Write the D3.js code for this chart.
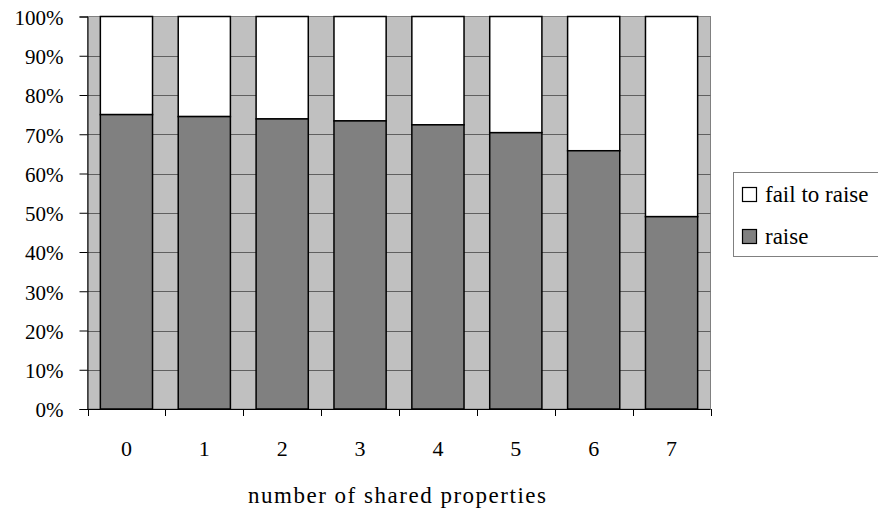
<!DOCTYPE html>
<html><head><meta charset="utf-8">
<script src="https://cdn.jsdelivr.net/npm/d3@7"></script>
<style>body{margin:0;background:#fff}svg{display:block}</style>
</head><body>
<script>
const categories = ["0","1","2","3","4","5","6","7"];
const raise = [75.0, 74.5, 73.9, 73.4, 72.4, 70.4, 65.8, 49.0];
const failToRaise = raise.map(v => 100 - v);
const yTicks = [0,10,20,30,40,50,60,70,80,90,100];
const seriesNames = ["fail to raise", "raise"];

const W = 878, H = 509;
const FONT = "Liberation Serif, Times New Roman, Tinos, DejaVu Serif, serif";
const m = {left: 87.5, right: 710.5, top: 16.5, bottom: 409};
const svg = d3.select("body").append("svg").attr("width", W).attr("height", H);

function txt(sel, fs) {
  return sel.attr("font-family", FONT).attr("font-size", fs).attr("fill", "#000")
    .style("font-family", FONT).style("font-size", fs + "px");
}

const x = d3.scaleBand().domain(categories).range([m.left, m.right]).paddingInner(0.33).paddingOuter(0.165);
const y = d3.scaleLinear().domain([0, 100]).range([m.bottom, m.top]);

// plot background
svg.append("rect").attr("x", m.left).attr("y", m.top).attr("width", m.right - m.left).attr("height", m.bottom - m.top)
  .attr("fill", "#c0c0c0").attr("stroke", "#808080").attr("stroke-width", 1);

// gridlines
svg.append("g").selectAll("line").data(yTicks.slice(1, -1)).join("line")
  .attr("x1", m.left).attr("x2", m.right)
  .attr("y1", d => Math.round(y(d)) + 0.5).attr("y2", d => Math.round(y(d)) + 0.5)
  .attr("stroke", "#606060").attr("stroke-width", 1);

// bars
const bw = x.bandwidth();
const g = svg.append("g");
categories.forEach((c, i) => {
  g.append("rect").attr("x", x(c)).attr("width", bw)
    .attr("y", y(100)).attr("height", y(raise[i]) - y(100))
    .attr("fill", "#ffffff").attr("stroke", "#000").attr("stroke-width", 1.5);
  g.append("rect").attr("x", x(c)).attr("width", bw)
    .attr("y", y(raise[i])).attr("height", y(0) - y(raise[i]))
    .attr("fill", "#808080").attr("stroke", "#000").attr("stroke-width", 1.5);
});

// y axis
const ya = d3.axisLeft(y).tickValues(yTicks).tickFormat(d => d + "%").tickSize(8).tickPadding(16);
const yg = svg.append("g").attr("transform", `translate(${m.left},0)`).call(ya);
yg.attr("font-family", null).attr("font-size", null);
yg.select(".domain").attr("stroke", "#000");
yg.selectAll(".tick line").attr("stroke", "#000");
txt(yg.selectAll(".tick text"), 21).attr("dy", "0.38em");

// x axis
const xg = svg.append("g").attr("transform", `translate(0,${m.bottom})`);
xg.append("line").attr("x1", m.left).attr("x2", m.right).attr("y1", 0.5).attr("y2", 0.5).attr("stroke", "#000");
const bounds = categories.map(c => x(c) - x.step() * x.paddingInner() / 2).concat([m.right]);
xg.selectAll("line.t").data(bounds).join("line").attr("class", "t")
  .attr("x1", d => Math.round(d) + 0.5).attr("x2", d => Math.round(d) + 0.5)
  .attr("y1", 0).attr("y2", 7).attr("stroke", "#000");
txt(xg.selectAll("text.l").data(categories).join("text").attr("class", "l")
  .attr("x", d => x(d) + bw / 2).attr("y", 47).attr("text-anchor", "middle"), 22)
  .text(d => d);

txt(svg.append("text").attr("x", 248).attr("y", 503).attr("textLength", 298).attr("lengthAdjust", "spacing"), 23)
  .text("number of shared properties");

// legend
const lg = svg.append("g");
lg.append("rect").attr("x", 733.5).attr("y", 172.5).attr("width", 160).attr("height", 84)
  .attr("fill", "#fff").attr("stroke", "#808080").attr("stroke-width", 1);
const legColors = ["#ffffff", "#808080"];
seriesNames.forEach((n, i) => {
  const base = 202 + i * 42;
  lg.append("rect").attr("x", 742.5).attr("y", base - 14.5).attr("width", 14).attr("height", 14)
    .attr("fill", legColors[i]).attr("stroke", "#000").attr("stroke-width", 1.2);
  txt(lg.append("text").attr("x", 765).attr("y", base), 23).text(n);
});
</script>
</body></html>
